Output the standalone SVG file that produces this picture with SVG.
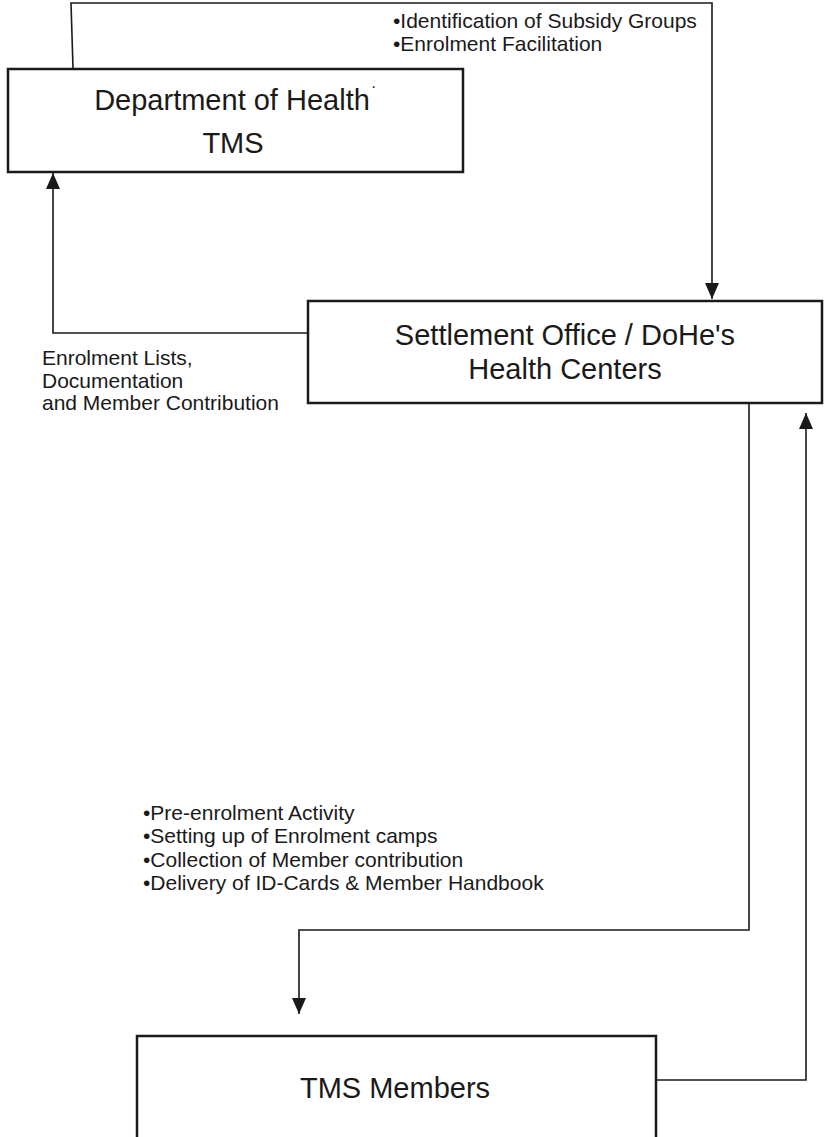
<svg xmlns="http://www.w3.org/2000/svg" width="824" height="1137" viewBox="0 0 824 1137">
<style>
.box{fill:#fff;stroke:#1a1a1a;stroke-width:2.5}
.big{font-family:"Liberation Sans",Arial,sans-serif;font-size:29px;fill:#1a1a1a;text-anchor:middle}
.lbl{font-family:"Liberation Sans",Arial,sans-serif;font-size:21px;fill:#1a1a1a}
.ln{fill:none;stroke:#1a1a1a;stroke-width:1.6}
</style>
<defs>
<marker id="ah" viewBox="0 0 16 14" refX="16" refY="7" markerWidth="16" markerHeight="14" markerUnits="userSpaceOnUse" orient="auto">
<path d="M0,0 L16,7 L0,14 Z" fill="#1a1a1a"/>
</marker>
</defs>
<rect width="824" height="1137" fill="#fff"/>
<g id="connectors">
<path class="ln" d="M73,68 L71,3 L712,3 L712,299" marker-end="url(#ah)"/>
<path class="ln" d="M308,333 L53,333 L53,173" marker-end="url(#ah)"/>
<path class="ln" d="M749,403 L749,930 L299,930 L299,1014" marker-end="url(#ah)"/>
<path class="ln" d="M656,1080 L806,1080 L806,413" marker-end="url(#ah)"/>
</g>
<g id="labels">
<text class="lbl" x="393" y="28">•Identification of Subsidy Groups</text>
<text class="lbl" x="393" y="51">•Enrolment Facilitation</text>
<text class="lbl" x="42" y="365">Enrolment Lists,</text>
<text class="lbl" x="42" y="388">Documentation</text>
<text class="lbl" x="42" y="410">and Member Contribution</text>
<text class="lbl" x="143" y="820">•Pre-enrolment Activity</text>
<text class="lbl" x="143" y="843">•Setting up of Enrolment camps</text>
<text class="lbl" x="143" y="867">•Collection of Member contribution</text>
<text class="lbl" x="143" y="890">•Delivery of ID-Cards &amp; Member Handbook</text>
</g>
<g id="dept">
<rect class="box" x="8" y="69" width="455" height="103"/>
<text class="big" x="232" y="110">Department of Health</text>
<text class="lbl" x="371" y="92" style="font-size:16px">·</text>
<text class="big" x="233" y="153">TMS</text>
</g>
<g id="settlement">
<rect class="box" x="308" y="301" width="514" height="102"/>
<text class="big" x="565" y="345">Settlement Office / DoHe's</text>
<text class="big" x="565" y="379">Health Centers</text>
</g>
<g id="members">
<rect class="box" x="137" y="1036" width="519" height="110"/>
<text class="big" x="395" y="1098">TMS Members</text>
</g>
</svg>
